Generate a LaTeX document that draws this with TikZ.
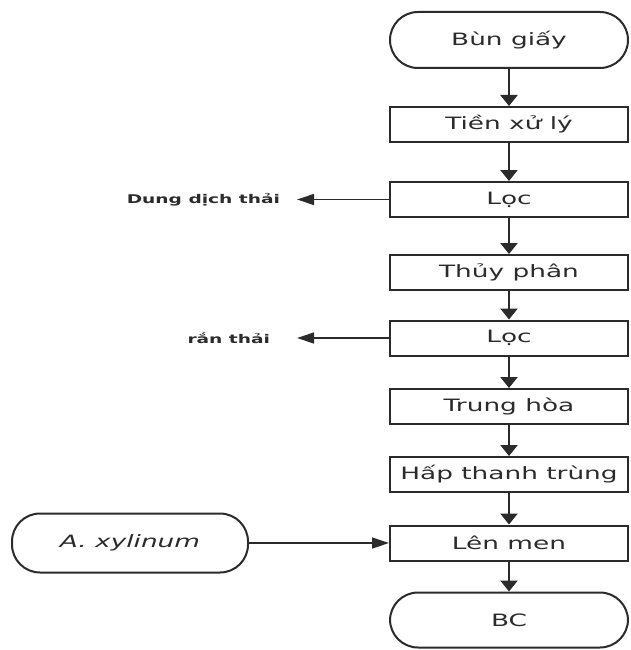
\documentclass[tikz,border=0pt]{standalone}
\usepackage{fontspec}
\setsansfont{DejaVu Sans}[FakeStretch=1.55]
\usetikzlibrary{
	arrows.meta,
	positioning,
}
\definecolor{LineGrey}{HTML}{2B2B2B}
\tikzset{every picture/.style={/utils/exec={\sffamily}}}

\begin{document}
\begin{tikzpicture} [x=1pt,y=-1pt,
            every node/.style={align=center,text=LineGrey},
            proc/.style={draw=LineGrey,line width=2pt,minimum width=238pt,minimum height=35pt,inner sep=0pt,font=\fontsize{17}{20}\selectfont},
            term/.style={proc,rounded corners=28pt,minimum height=56pt},
            waste/.style={font=\bfseries\fontsize{12}{14}\selectfont,anchor=east,inner sep=0pt},
            flow/.style={draw=LineGrey,-{Triangle[length=11pt,width=17pt]},line width=2.4pt},
            side/.style={draw=LineGrey,-{Triangle[length=17pt,width=11pt]},line width=1.3pt}
        ]
        \useasboundingbox (0,0) rectangle (630,650);

        \node at (509,40) [term] (bungiay) {Bùn giấy};
        \node at (509,124.5) [proc] (tienxuly) {Tiền xử lý};
        \node at (509,199.5) [proc] (loc1) {Lọc};
        \node at (509,272.5) [proc] (thuyphan) {Thủy phân};
        \node at (509,338) [proc] (loc2) {Lọc};
        \node at (509,406.5) [proc] (trunghoa) {Trung hòa};
        \node at (509,474.5) [proc] (hapthanhtrung) {Hấp thanh trùng};
        \node at (509,543) [proc] (lenmen) {Lên men};
        \node at (509,620) [term,minimum height=55pt] (bc) {BC};

        \node at (130,543) [term,minimum width=236pt,minimum height=59pt] (xylinum) {\itshape A. xylinum};

        \node at (297,199.5) [waste,outer sep=17pt] (dungdich) {Dung dịch thải};
        \node at (297,338) [waste,outer sep=27pt] (ranthai) {rắn thải};

        \foreach \from/\to in {bungiay/tienxuly,tienxuly/loc1,loc1/thuyphan,thuyphan/loc2,loc2/trunghoa,trunghoa/hapthanhtrung,hapthanhtrung/lenmen,lenmen/bc}
            \path[flow] (\from) -- (\to);

        \path[side] (loc1.west) -- (dungdich.east);
        \path[side] (loc2.west) -- (ranthai.east);
        \path[side] (xylinum.east) -- (lenmen.west);
    \end{tikzpicture}
\end{document}
